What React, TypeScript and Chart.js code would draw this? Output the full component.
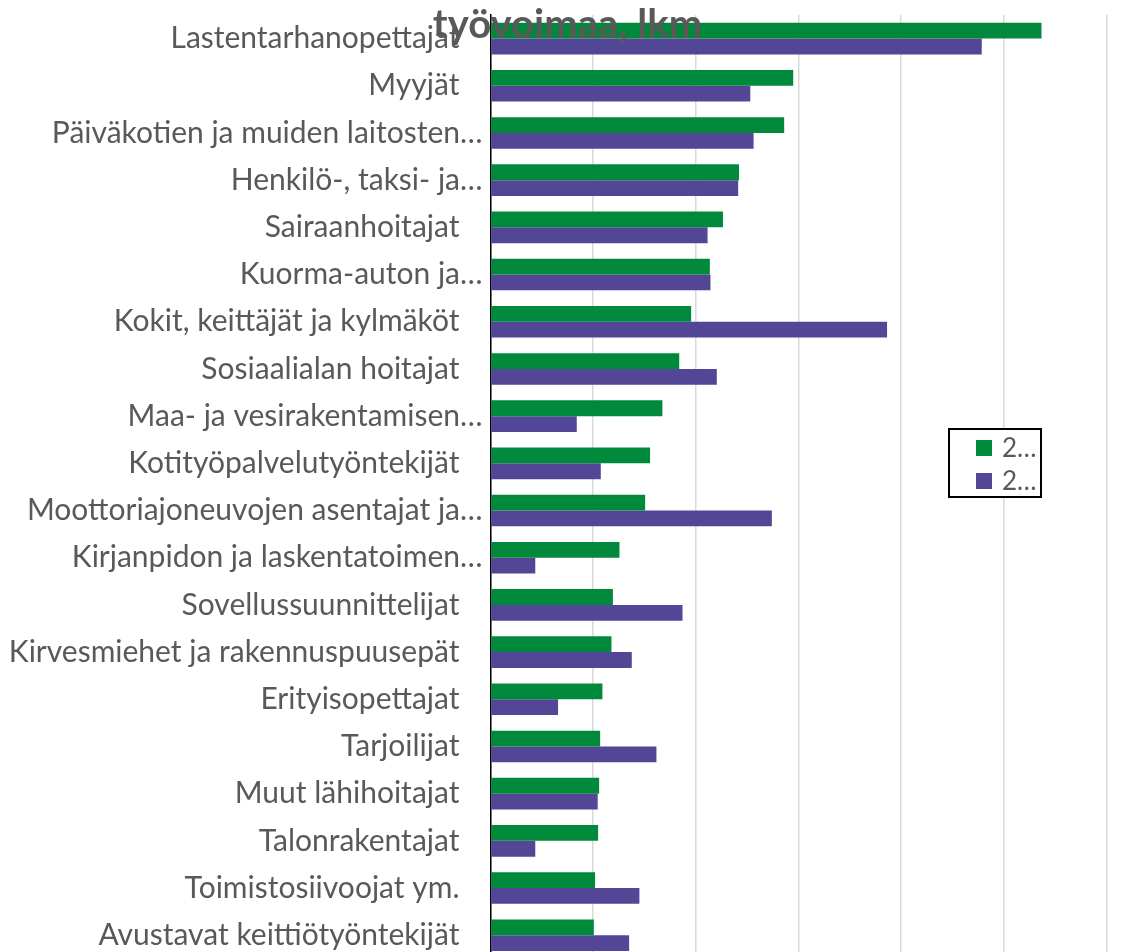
import React, { useEffect, useRef } from "react";
import { Chart, registerables } from "chart.js";

Chart.register(...registerables);

const categories = [
  "Lastentarhanopettajat",
  "Myyjät",
  "Päiväkotien ja muiden laitosten…",
  "Henkilö-, taksi- ja…",
  "Sairaanhoitajat",
  "Kuorma-auton ja…",
  "Kokit, keittäjät ja kylmäköt",
  "Sosiaalialan hoitajat",
  "Maa- ja vesirakentamisen…",
  "Kotityöpalvelutyöntekijät",
  "Moottoriajoneuvojen asentajat ja…",
  "Kirjanpidon ja laskentatoimen…",
  "Sovellussuunnittelijat",
  "Kirvesmiehet ja rakennuspuusepät",
  "Erityisopettajat",
  "Tarjoilijat",
  "Muut lähihoitajat",
  "Talonrakentajat",
  "Toimistosiivoojat ym.",
  "Avustavat keittiötyöntekijät",
];

const seriesNames = ["2…", "2…"];

const seriesA = [2683, 1474, 1430, 1210, 1132, 1068, 977, 919, 837, 777, 753, 628, 596, 589, 545, 534, 529, 524, 509, 503];
const seriesB = [2392, 1265, 1281, 1206, 1057, 1071, 1931, 1102, 420, 537, 1370, 218, 935, 688, 329, 808, 522, 218, 725, 675];

const titleText = "työvoimaa, lkm";

const GREEN = "#00893A";
const PURPLE = "#544696";
const TEXT = "#595959";

const overlayPlugin = {
  id: "overlay",
  afterDraw(chart: any) {
    const ctx = chart.ctx as CanvasRenderingContext2D;
    ctx.save();
    // title
    ctx.font = "bold 40px Lato";
    ctx.fillStyle = TEXT;
    ctx.textAlign = "center";
    ctx.textBaseline = "alphabetic";
    ctx.fillText(titleText, 567.5, 38);

    // legend box
    const bx = 949, by = 429, bw = 92, bh = 68;
    ctx.fillStyle = "#ffffff";
    ctx.fillRect(bx, by, bw, bh);
    ctx.strokeStyle = "#000000";
    ctx.lineWidth = 2;
    ctx.strokeRect(bx, by, bw, bh);
    const ds = chart.data.datasets;
    const rows = [448, 481];
    ds.forEach((d: any, i: number) => {
      ctx.fillStyle = d.backgroundColor;
      ctx.fillRect(976, rows[i] - 8, 16, 16);
      ctx.fillStyle = TEXT;
      ctx.font = "26px Lato";
      ctx.textAlign = "left";
      ctx.textBaseline = "middle";
      ctx.fillText(d.label, 1002, rows[i] + 1);
    });
    ctx.restore();
  },
};

export default function App() {
  const ref = useRef<HTMLCanvasElement | null>(null);

  useEffect(() => {
    if (!ref.current) return;
    const chart = new Chart(ref.current, {
      type: "bar",
      data: {
        labels: categories,
        datasets: [
          { label: seriesNames[0], data: seriesA, backgroundColor: GREEN, borderWidth: 0 },
          { label: seriesNames[1], data: seriesB, backgroundColor: PURPLE, borderWidth: 0 },
        ],
      },
      options: {
        indexAxis: "y",
        responsive: false,
        animation: false,
        layout: { padding: { top: 15, right: 39.4, bottom: 8, left: 0 } },
        datasets: { bar: { categoryPercentage: 0.67, barPercentage: 1 } },
        plugins: {
          legend: { display: false },
          title: { display: false },
          tooltip: { enabled: false },
        },
        scales: {
          x: {
            min: 0,
            max: 3000,
            ticks: { display: false, stepSize: 500 },
            grid: { color: "#d9d9d9", lineWidth: 1.5, drawTicks: false },
            border: { display: false },
            afterFit: (axis: any) => {
              axis.height = 0;
            },
          },
          y: {
            ticks: {
              autoSkip: false,
              padding: 8,
              color: TEXT,
              font: { family: "Lato", size: 30, lineHeight: 0.01 },
              callback: (_v: any, i: number) => {
                const l = categories[i];
                return l.endsWith("…") ? l : l + "   ";
              },
            },
            grid: { display: false, drawTicks: false },
            border: { display: true, color: "#000000", width: 1.5 },
            afterFit: (axis: any) => {
              axis.width = 490.5;
            },
          },
        },
      },
      plugins: [overlayPlugin],
    });
    return () => chart.destroy();
  }, []);

  return (
    <div
      style={{
        position: "fixed",
        left: 0,
        top: 0,
        width: 1146,
        height: 952,
        overflow: "hidden",
        background: "#ffffff",
      }}
    >
      <canvas ref={ref} width={1146} height={967} style={{ display: "block" }} />
    </div>
  );
}
